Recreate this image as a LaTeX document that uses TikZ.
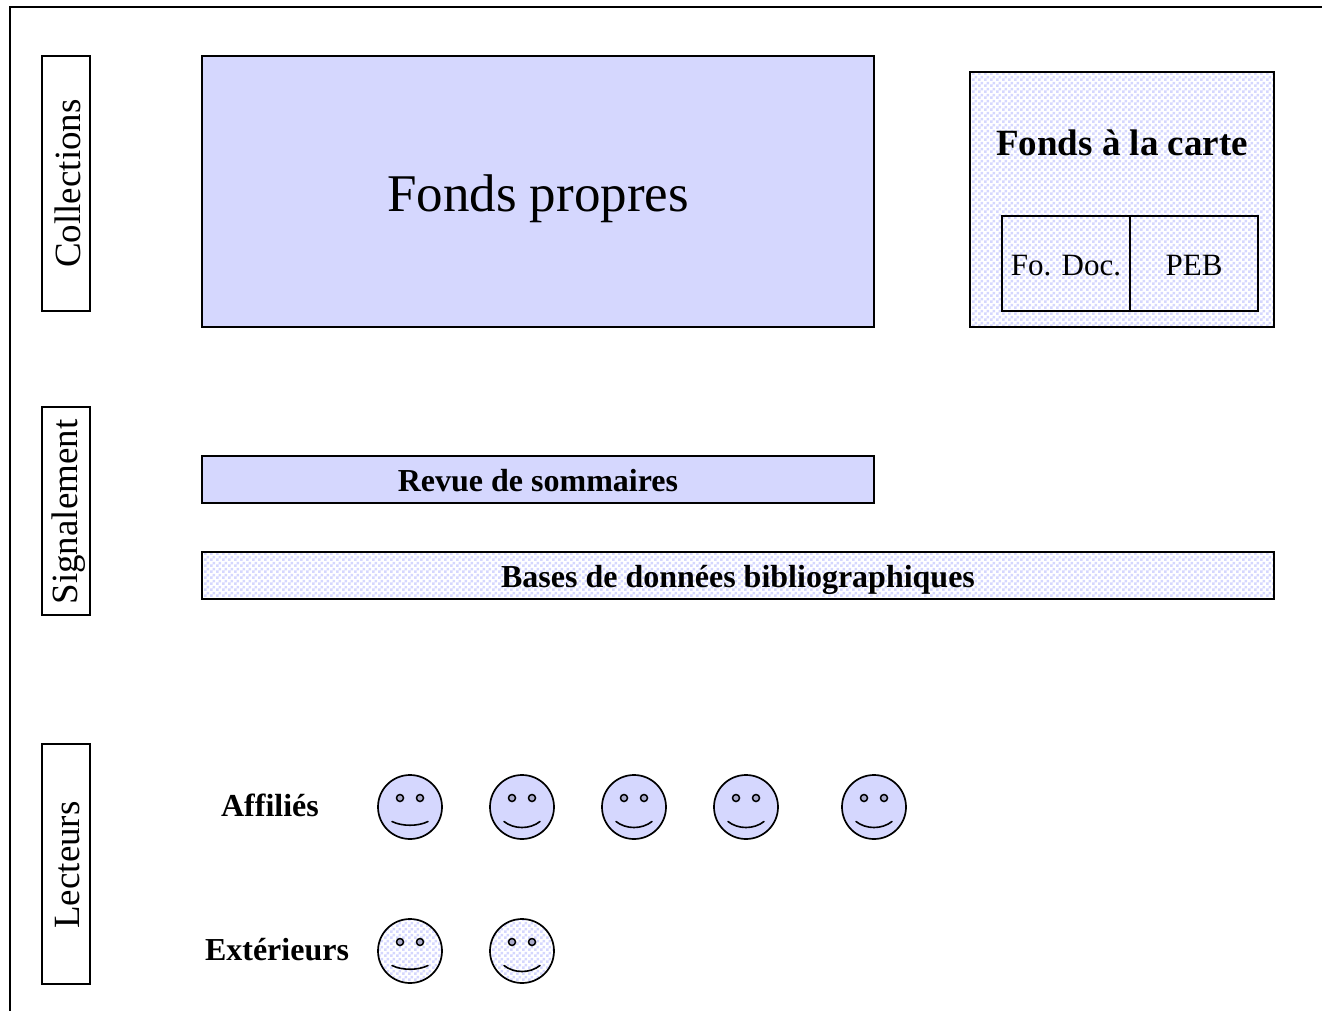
\documentclass[tikz,border=0pt]{standalone}
\usepackage{fontspec}
\setmainfont{Liberation Serif}
\usetikzlibrary{patterns}
\definecolor{lav}{HTML}{D5D7FE}
\definecolor{eyec}{HTML}{AAABCB}
\pgfdeclarepatternformonly{dotty}{\pgfpointorigin}{\pgfpoint{6pt}{6pt}}{\pgfpoint{6pt}{6pt}}{%
  \pgfpathrectangle{\pgfpoint{0pt}{0pt}}{\pgfpoint{3pt}{3pt}}%
  \pgfpathrectangle{\pgfpoint{3pt}{3pt}}{\pgfpoint{3pt}{3pt}}%
  \pgfusepath{fill}}
\tikzset{
  box/.style={draw=black,line width=1.6pt,rectangle,inner sep=0pt,outer sep=0pt,anchor=north west,align=center},
  solidbox/.style={box,fill=lav},
  checker/.style={pattern=dotty,pattern color=lav},
  hatchbox/.style={box,checker},
  sidelabel/.style={box,fill=white},
  sidetext/.style={rotate=90,font=\fontsize{37}{37}\selectfont,inner sep=0pt},
  facec/.style={circle,draw=black,line width=1.7pt,minimum size=64pt,inner sep=0pt,outer sep=0pt},
  eye/.style={circle,draw=black,line width=1.5pt,fill=eyec,minimum size=7pt,inner sep=0pt,outer sep=0pt},
  mouth/.style={draw=black,line width=1.6pt,line cap=round},
  boldlabel/.style={font=\fontsize{32}{32}\selectfont\bfseries,inner sep=0pt},
  smalltext/.style={font=\fontsize{31}{31}\selectfont,inner sep=0pt},
}
\newcommand{\myface}[5]{% name, x, y, fill style, mouth depth
  \node[facec,#4] (#1) at (#2,#3) {};
  \node[eye] (#1l) at ([shift={(-10pt,9pt)}]#1.center) {};
  \node[eye] (#1r) at ([shift={(10pt,9pt)}]#1.center) {};
  \coordinate (#1a) at ([shift={(-18pt,-14.5pt)}]#1.center);
  \coordinate (#1b) at ([shift={(18pt,-14.5pt)}]#1.center);
  \draw[mouth] (#1a) .. controls +(10pt,#5) and +(-10pt,#5) .. (#1b);
}
\begin{document}
\begin{tikzpicture}[x=1pt,y=-1pt]
\useasboundingbox (0,0) rectangle (1322,1011);
\coordinate (fa) at (10,1011);
\coordinate (fb) at (10,7);
\coordinate (fc) at (1322,7);
\draw[line width=1.6pt] (fa) -- (fb) -- (fc);
% side labels
\node[sidelabel,minimum width=48pt,minimum height=255pt] (coll) at (42,56) {};
\node[sidetext] (colltxt) at ([xshift=2pt]coll.center) {Collections};
\node[sidelabel,minimum width=48pt,minimum height=208pt] (sign) at (42,407) {};
\node[sidetext] (signtxt) at ([xshift=3pt,yshift=-1pt]sign.center) {Signalement};
\node[sidelabel,minimum width=48pt,minimum height=240pt] (lect) at (42,744) {};
\node[sidetext] (lecttxt) at ([xshift=2pt,yshift=-1pt]lect.center) {Lecteurs};
% collections
\node[solidbox,minimum width=672pt,minimum height=271pt] (fp) at (202,56) {};
\node[font=\fontsize{53}{53}\selectfont,inner sep=0pt] (fptxt) at (538,199) {Fonds propres};
\node[hatchbox,minimum width=304pt,minimum height=255pt] (fc2) at (970,72) {};
\node[boldlabel,font=\fontsize{37}{37}\selectfont\bfseries] (fctxt) at (1122,143) {Fonds à la carte};
\node[box,minimum width=128pt,minimum height=95pt] (fd) at (1002,216) {};
\node[smalltext] (fdt) at ([yshift=-2pt]fd.center) {Fo. Doc.};
\node[box,minimum width=128pt,minimum height=95pt] (peb) at (1130,216) {};
\node[smalltext] (pebt) at ([yshift=-2pt]peb.center) {PEB};
% signalement
\node[solidbox,minimum width=672pt,minimum height=47pt] (rev) at (202,456) {};
\node[boldlabel] (revt) at ([yshift=-1pt]rev.center) {Revue de sommaires};
\node[hatchbox,minimum width=1072pt,minimum height=47pt] (bdd) at (202,552) {};
\node[boldlabel] (bddt) at (738,580) {Bases de données bibliographiques};
% lecteurs
\node[boldlabel] (aff) at (270,805) {Affiliés};
\node[boldlabel] (ext) at (277,950) {Extérieurs};
\myface{a1}{410}{807}{fill=lav}{-5pt}
\myface{a2}{522}{807}{fill=lav}{-8pt}
\myface{a3}{634}{807}{fill=lav}{-8pt}
\myface{a4}{746}{807}{fill=lav}{-8pt}
\myface{a5}{874}{807}{fill=lav}{-8pt}
\myface{e1}{410}{951}{checker}{-5pt}
\myface{e2}{522}{951}{checker}{-8pt}
\end{tikzpicture}
\end{document}
